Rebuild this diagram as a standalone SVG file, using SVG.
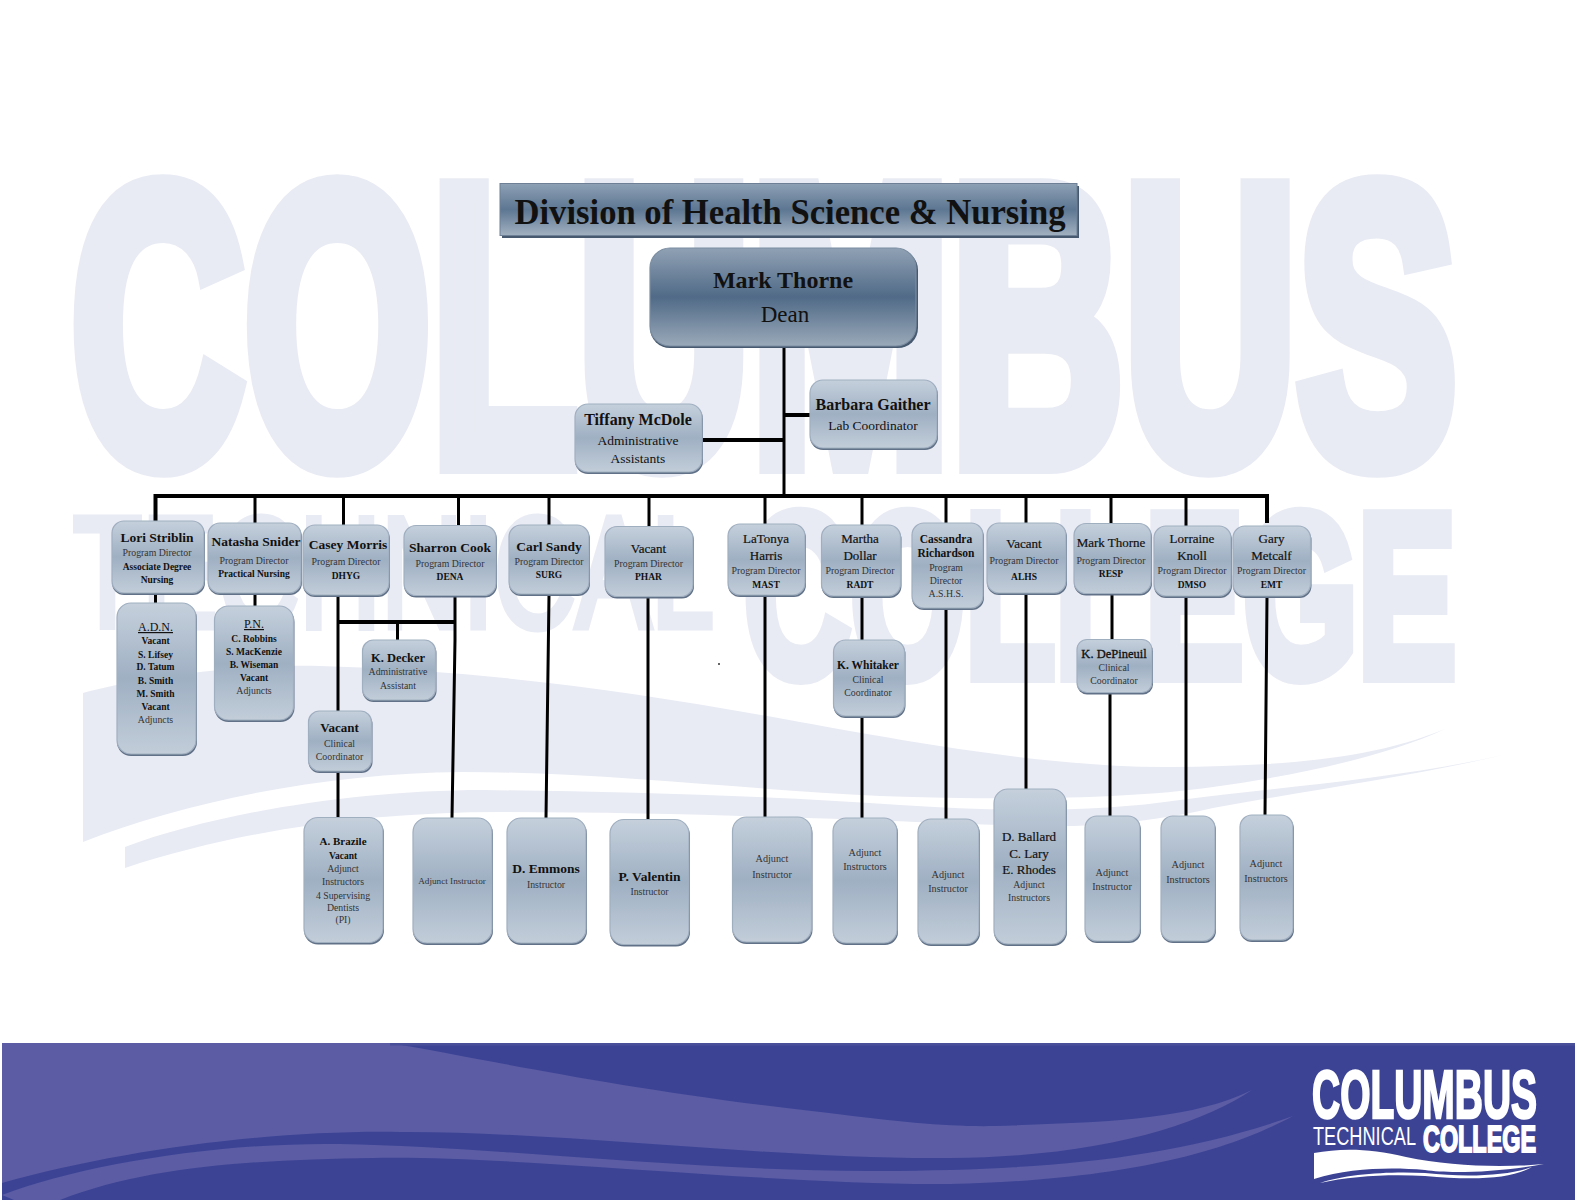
<svg xmlns="http://www.w3.org/2000/svg" width="1579" height="1200" viewBox="0 0 1579 1200">
<style>
text{font-family:"Liberation Serif","Times New Roman",serif;text-anchor:middle;fill:#111}
.wm{font-family:"Liberation Sans",Arial,sans-serif;text-anchor:start;fill:#e9ebf4;stroke:#e9ebf4;font-weight:700;stroke-linejoin:miter}
.lg{font-family:"Liberation Sans",Arial,sans-serif;text-anchor:start;fill:#fff;stroke:#fff;font-weight:700}
.n{font-size:13.5px;font-weight:700}
.m{font-size:13px;stroke:#111;stroke-width:.2}
.p{font-size:9.800px;fill:#333}
.c{font-size:9.500px;font-weight:700}
.i{font-size:10.200px;fill:#333}
.s{fill:#617187}
.b{fill:url(#g);stroke:#a0afc0;stroke-width:1.2}
.conn{stroke:#000;stroke-width:3;fill:none}
.thick{stroke-width:4}
</style>
<defs>
<linearGradient id="g" x1="0" y1="0" x2="0" y2="1"><stop offset="0" stop-color="#c5d0dc"/><stop offset=".5" stop-color="#9fb0c3"/><stop offset="1" stop-color="#c2cdd9"/></linearGradient>
<linearGradient id="gd" x1="0" y1="0" x2="0" y2="1"><stop offset="0" stop-color="#90a1b4"/><stop offset=".5" stop-color="#506a87"/><stop offset="1" stop-color="#9aa9b9"/></linearGradient>
<linearGradient id="gt" x1="0" y1="0" x2="0" y2="1"><stop offset="0" stop-color="#8ea1b5"/><stop offset=".5" stop-color="#5d7692"/><stop offset="1" stop-color="#a2b1c1"/></linearGradient>
</defs>
<rect width="1579" height="1200" fill="#fff"/>
<g id="watermark">
<text class="wm" x="71" y="462" font-size="395" stroke-width="24" textLength="1386" lengthAdjust="spacingAndGlyphs">COLUMBUS</text>
<text class="wm" x="73" y="627" font-size="158" stroke-width="7" style="font-weight:400" textLength="641" lengthAdjust="spacingAndGlyphs">TECHNICAL</text>
<text class="wm" x="744" y="676" font-size="232" stroke-width="14" textLength="712" lengthAdjust="spacingAndGlyphs">COLLEGE</text>
<path fill="#e9ebf4" d="M83,693 C130,680 230,664 320,666 C480,670 640,692 800,722 C900,740 1050,768 1170,767 C1280,766 1370,760 1445,729 C1390,755 1300,775 1213,787 C1120,800 1000,800 880,796 C750,790 600,772 462,772 C330,773 190,800 83,842 Z"/>
<path fill="#e9ebf4" d="M125,847 C210,815 350,790 484,790 C620,792 760,795 900,805 C1000,812 1100,812 1180,800 C1300,785 1400,778 1503,755 C1420,775 1310,790 1213,808 C1160,820 1100,828 1030,826 C900,822 700,812 500,812 C370,812 240,830 125,868 Z"/>
</g>
<g id="footer">
<rect x="2" y="1043" width="1573" height="157" fill="#3c4395"/>
<path fill="#5b5ca3" d="M2,1043 L390,1043 C480,1058 620,1090 829,1113 C900,1122 950,1127 995,1126 C1110,1122 1190,1120 1252,1090 C1200,1125 1100,1157 950,1158 C780,1160 560,1131 400,1132 C270,1130 120,1150 2,1183 Z"/>
<path fill="#5b5ca3" d="M2,1195 C80,1165 220,1142 340,1144 C500,1147 700,1172 880,1171 C1040,1170 1170,1160 1293,1116 C1230,1150 1130,1180 950,1184 C780,1186 520,1155 373,1158 C260,1160 150,1165 60,1200 L14,1200 Z"/>
<rect x="390" y="1043" width="1185" height="2.500" fill="#4a4f9a"/>
<text class="lg" x="1312" y="1118" font-size="68" stroke-width="2.500" textLength="225" lengthAdjust="spacingAndGlyphs">COLUMBUS</text>
<text class="lg" x="1313" y="1145" font-size="25" stroke-width="0" style="font-weight:400" textLength="103" lengthAdjust="spacingAndGlyphs">TECHNICAL</text>
<text class="lg" x="1423" y="1152" font-size="37" stroke-width="2" textLength="113" lengthAdjust="spacingAndGlyphs">COLLEGE</text>
<path fill="#fff" d="M1314,1153 C1340,1148 1370,1148 1406,1157 C1450,1166 1500,1168 1544,1164 C1500,1172 1450,1174 1425,1170 C1390,1167 1350,1168 1314,1179 Z"/>
<path fill="#fff" d="M1320,1183 C1345,1174 1390,1171 1425,1173 C1470,1178 1510,1175 1532,1167 C1510,1180 1470,1180 1425,1176 C1390,1174 1350,1176 1320,1183 Z"/>
</g>
<g id="connectors" class="conn">
<path d="M784,347V497"/>
<path class="thick" d="M784,415H810M702,440H784"/>
<path class="thick" d="M155.500,523V496H1267V523"/>
<path d="M155.500,594V603M255,497V523M255,594V606M343.500,497V525M458.500,497V526M549,497V525M649,497V527M765,497V524M862,497V525M946,497V523M1026,497V523M1111,497V524M1186,497V526"/>
<path d="M338,596V711M338,772V818"/>
<path class="thick" d="M338,622H456"/>
<path d="M455,597V640L452,818M397.500,622V640"/>
<path d="M549,595L546,818M648,597V820M765,596V817M862,597V640M862,717V818M946,609V819M1026,594V789M1112,594V639M1110,693V816M1186,597V816M1267,597L1265,815"/>
</g>
<path id="speck" d="M718,664h2" stroke="#333" stroke-width="1.500"/>
<g id="title">
<rect x="502" y="186" width="577" height="52" fill="#46596f"/>
<rect x="500" y="183.500" width="577" height="52" fill="url(#gt)" stroke="#6d8095" stroke-width="1"/>
<text x="790" y="224" font-size="36" font-weight="700" textLength="551" lengthAdjust="spacingAndGlyphs">Division of Health Science &amp; Nursing</text>
</g>
<g id="dean">
<rect x="650" y="250" width="268" height="98" rx="20" fill="#46596f"/>
<rect x="650" y="248" width="266" height="98" rx="20" fill="url(#gd)" stroke="#7b8da1" stroke-width="1.200"/>
<text x="783" y="288" font-size="24" font-weight="700">Mark Thorne</text>
<text x="785" y="322" font-size="23" fill="#1a1a1a">Dean</text>
</g>
<g id="tiffany">
<rect class="s" x="575" y="406" width="128" height="68" rx="13"/><rect class="b" x="575" y="404" width="127" height="68" rx="13"/>
<text class="n" style="font-size:16px" x="638" y="425">Tiffany McDole</text>
<text x="638" y="445" font-size="13.500">Administrative</text>
<text x="638" y="463" font-size="13.500">Assistants</text>
</g>
<g id="barbara">
<rect class="s" x="810" y="382" width="128" height="68" rx="13"/><rect class="b" x="810" y="380" width="127" height="68" rx="13"/>
<text class="n" style="font-size:16px" x="873" y="410">Barbara Gaither</text>
<text x="873" y="430" font-size="13.500">Lab Coordinator</text>
</g>
<g id="lori">
<rect class="s" x="112" y="523" width="93" height="72" rx="12"/><rect class="b" x="112" y="521" width="92" height="72" rx="12"/>
<text class="n" x="157" y="541.500">Lori Striblin</text>
<text class="p" x="157" y="556">Program Director</text>
<text class="c" x="157" y="570">Associate Degree</text>
<text class="c" x="157" y="583">Nursing</text>
</g>
<g id="natasha">
<rect class="s" x="208" y="525" width="94" height="70" rx="12"/><rect class="b" x="208" y="523" width="93" height="70" rx="12"/>
<text class="n" x="256" y="545.500">Natasha Snider</text>
<text class="p" x="254" y="564">Program Director</text>
<text class="c" x="254" y="577">Practical Nursing</text>
</g>
<g id="casey">
<rect class="s" x="303" y="527" width="87" height="70" rx="12"/><rect class="b" x="303" y="525" width="86" height="70" rx="12"/>
<text class="n" x="348" y="549">Casey Morris</text>
<text class="p" x="346" y="565">Program Director</text>
<text class="c" x="346" y="579">DHYG</text>
</g>
<g id="sharron">
<rect class="s" x="404" y="527.500" width="93" height="70" rx="12"/><rect class="b" x="404" y="525.500" width="92" height="70" rx="12"/>
<text class="n" x="450" y="552">Sharron Cook</text>
<text class="p" x="450" y="566.500">Program Director</text>
<text class="c" x="450" y="579.500">DENA</text>
</g>
<g id="carl">
<rect class="s" x="509" y="527" width="81" height="69" rx="12"/><rect class="b" x="509" y="525" width="80" height="69" rx="12"/>
<text class="n" x="549" y="551">Carl Sandy</text>
<text class="p" x="549" y="565">Program Director</text>
<text class="c" x="549" y="578">SURG</text>
</g>
<g id="vacant-phar">
<rect class="s" x="605" y="528.500" width="89" height="70" rx="12"/><rect class="b" x="605" y="526.500" width="88" height="70" rx="12"/>
<text class="m" x="648.500" y="553">Vacant</text>
<text class="p" x="648.500" y="567">Program Director</text>
<text class="c" x="648.500" y="580">PHAR</text>
</g>
<g id="latonya">
<rect class="s" x="728" y="526" width="78" height="71" rx="12"/><rect class="b" x="728" y="524" width="77" height="71" rx="12"/>
<text class="m" x="766" y="542.500">LaTonya</text>
<text class="m" x="766" y="560">Harris</text>
<text class="p" x="766" y="574">Program Director</text>
<text class="c" x="766" y="587.500">MAST</text>
</g>
<g id="martha">
<rect class="s" x="821.500" y="527" width="80" height="71" rx="12"/><rect class="b" x="821.500" y="525" width="79" height="71" rx="12"/>
<text class="m" x="860" y="542.500">Martha</text>
<text class="m" x="860" y="560">Dollar</text>
<text class="p" x="860" y="574">Program Director</text>
<text class="c" x="860" y="587.500">RADT</text>
</g>
<g id="cassandra">
<rect class="s" x="912" y="525" width="72" height="85" rx="12"/><rect class="b" x="912" y="523" width="71" height="85" rx="12"/>
<text x="946" y="542.500" font-size="11.500" font-weight="700" fill="#222">Cassandra</text>
<text x="946" y="557" font-size="11.500" font-weight="700">Richardson</text>
<text class="p" x="946" y="571">Program</text>
<text class="p" x="946" y="583.500">Director</text>
<text class="p" x="946" y="597">A.S.H.S.</text>
</g>
<g id="vacant-alhs">
<rect class="s" x="987" y="525" width="80" height="70" rx="12"/><rect class="b" x="987" y="523" width="79" height="70" rx="12"/>
<text class="m" x="1024" y="548">Vacant</text>
<text class="p" x="1024" y="564">Program Director</text>
<text class="c" x="1024" y="580">ALHS</text>
</g>
<g id="mark-resp">
<rect class="s" x="1074" y="525.500" width="78" height="70" rx="12"/><rect class="b" x="1074" y="523.500" width="77" height="70" rx="12"/>
<text class="m" x="1111" y="547">Mark Thorne</text>
<text class="p" x="1111" y="563.500">Program Director</text>
<text class="c" x="1111" y="577">RESP</text>
</g>
<g id="lorraine">
<rect class="s" x="1154" y="528" width="78" height="70" rx="12"/><rect class="b" x="1154" y="526" width="77" height="70" rx="12"/>
<text class="m" x="1192" y="542.500">Lorraine</text>
<text class="m" x="1192" y="560">Knoll</text>
<text class="p" x="1192" y="574">Program Director</text>
<text class="c" x="1192" y="587.500">DMSO</text>
</g>
<g id="gary">
<rect class="s" x="1233" y="528" width="78.500" height="70" rx="12"/><rect class="b" x="1233" y="526" width="77.500" height="70" rx="12"/>
<text class="m" x="1271.500" y="542.500">Gary</text>
<text class="m" x="1271.500" y="560">Metcalf</text>
<text class="p" x="1271.500" y="574">Program Director</text>
<text class="c" x="1271.500" y="587.500">EMT</text>
</g>
<g id="adn">
<rect class="s" x="117" y="605" width="80" height="151" rx="14"/><rect class="b" x="117" y="603" width="79" height="151" rx="14"/>
<text x="155.500" y="631" font-size="12" text-decoration="underline">A.D.N.</text>
<text class="c" x="155.500" y="644">Vacant</text>
<text class="c" x="155.500" y="657.500">S. Lifsey</text>
<text class="c" x="155.500" y="670">D. Tatum</text>
<text class="c" x="155.500" y="683.500">B. Smith</text>
<text class="c" x="155.500" y="696.500">M. Smith</text>
<text class="c" x="155.500" y="709.500">Vacant</text>
<text class="p" x="155.500" y="722.500">Adjuncts</text>
</g>
<g id="pn">
<rect class="s" x="214.500" y="608" width="80" height="114" rx="14"/><rect class="b" x="214.500" y="606" width="79" height="114" rx="14"/>
<text x="254" y="628" font-size="12" text-decoration="underline">P.N.</text>
<text class="c" x="254" y="641.500">C. Robbins</text>
<text class="c" x="254" y="655">S. MacKenzie</text>
<text class="c" x="254" y="668">B. Wiseman</text>
<text class="c" x="254" y="681">Vacant</text>
<text class="p" x="254" y="694">Adjuncts</text>
</g>
<g id="decker">
<rect class="s" x="362.500" y="642" width="74" height="60" rx="11"/><rect class="b" x="362.500" y="640" width="73" height="60" rx="11"/>
<text class="n" style="font-size:12.500px" x="398" y="661.500">K. Decker</text>
<text class="p" x="398" y="675">Administrative</text>
<text class="p" x="398" y="689">Assistant</text>
</g>
<g id="vacant-clinical">
<rect class="s" x="308.500" y="713" width="64" height="60" rx="11"/><rect class="b" x="308.500" y="711" width="63" height="60" rx="11"/>
<text class="n" style="font-size:13px" x="339.500" y="732">Vacant</text>
<text class="p" x="339.500" y="747">Clinical</text>
<text class="p" x="339.500" y="760">Coordinator</text>
</g>
<g id="whitaker">
<rect class="s" x="833.500" y="642" width="72" height="76" rx="12"/><rect class="b" x="833.500" y="640" width="71" height="76" rx="12"/>
<text class="n" style="font-size:11.500px" x="868" y="668.500">K. Whitaker</text>
<text class="p" x="868" y="682.500">Clinical</text>
<text class="p" x="868" y="695.500">Coordinator</text>
</g>
<g id="depineuil">
<rect class="s" x="1077" y="641.500" width="76" height="53" rx="10"/><rect class="b" x="1077" y="639.500" width="75" height="53" rx="10"/>
<text class="n" style="font-size:12.500px;font-weight:400;stroke:#111;stroke-width:.3" x="1114" y="657.500">K. DePineuil</text>
<text class="p" x="1114" y="671">Clinical</text>
<text class="p" x="1114" y="684">Coordinator</text>
</g>
<g id="brazile">
<rect class="s" x="304" y="819.500" width="80" height="125" rx="14"/><rect class="b" x="304" y="817.500" width="79" height="125" rx="14"/>
<text class="n" style="font-size:11px" x="343" y="845">A. Brazile</text>
<text class="c" x="343" y="859">Vacant</text>
<text class="p" x="343" y="871.500">Adjunct</text>
<text class="p" x="343" y="884.500">Instructors</text>
<text class="p" x="343" y="898.500">4 Supervising</text>
<text class="p" x="343" y="910.500">Dentists</text>
<text class="p" x="343" y="923">(PI)</text>
</g>
<g id="adjunct-dena">
<rect class="s" x="413" y="820" width="80" height="125" rx="14"/><rect class="b" x="413" y="818" width="79" height="125" rx="14"/>
<text class="p" style="font-size:9.200px" x="452" y="884">Adjunct Instructor</text>
</g>
<g id="emmons">
<rect class="s" x="507" y="820" width="80" height="125" rx="14"/><rect class="b" x="507" y="818" width="79" height="125" rx="14"/>
<text class="n" x="546" y="873">D. Emmons</text>
<text class="p" x="546" y="887.500">Instructor</text>
</g>
<g id="valentin">
<rect class="s" x="610" y="821.500" width="80" height="125" rx="14"/><rect class="b" x="610" y="819.500" width="79" height="125" rx="14"/>
<text class="n" x="649.500" y="880.500">P. Valentin</text>
<text class="p" x="649.500" y="894.500">Instructor</text>
</g>
<g id="adjunct-mast">
<rect class="s" x="732.500" y="819" width="80" height="125" rx="14"/><rect class="b" x="732.500" y="817" width="79" height="125" rx="14"/>
<text class="i" x="772" y="862">Adjunct</text>
<text class="i" x="772" y="878">Instructor</text>
</g>
<g id="adjunct-radt">
<rect class="s" x="833" y="820" width="65" height="125" rx="13"/><rect class="b" x="833" y="818" width="64" height="125" rx="13"/>
<text class="i" x="865" y="855.500">Adjunct</text>
<text class="i" x="865" y="870">Instructors</text>
</g>
<g id="adjunct-ashs">
<rect class="s" x="918" y="821" width="62" height="125" rx="13"/><rect class="b" x="918" y="819" width="61" height="125" rx="13"/>
<text class="i" x="948" y="878">Adjunct</text>
<text class="i" x="948" y="892">Instructor</text>
</g>
<g id="ballard">
<rect class="s" x="994" y="791" width="73" height="155" rx="14"/><rect class="b" x="994" y="789" width="72" height="155" rx="14"/>
<text class="m" x="1029" y="841">D. Ballard</text>
<text class="m" x="1029" y="857.500">C. Lary</text>
<text class="m" x="1029" y="874">E. Rhodes</text>
<text class="p" x="1029" y="888">Adjunct</text>
<text class="p" x="1029" y="901">Instructors</text>
</g>
<g id="adjunct-resp">
<rect class="s" x="1085" y="818" width="56" height="125" rx="12"/><rect class="b" x="1085" y="816" width="55" height="125" rx="12"/>
<text class="i" x="1112" y="876">Adjunct</text>
<text class="i" x="1112" y="890">Instructor</text>
</g>
<g id="adjunct-dmso">
<rect class="s" x="1161" y="818" width="55" height="125" rx="12"/><rect class="b" x="1161" y="816" width="54" height="125" rx="12"/>
<text class="i" x="1188" y="868">Adjunct</text>
<text class="i" x="1188" y="883">Instructors</text>
</g>
<g id="adjunct-emt">
<rect class="s" x="1240" y="817" width="54" height="125" rx="12"/><rect class="b" x="1240" y="815" width="53" height="125" rx="12"/>
<text class="i" x="1266" y="867">Adjunct</text>
<text class="i" x="1266" y="882">Instructors</text>
</g>
</svg>
